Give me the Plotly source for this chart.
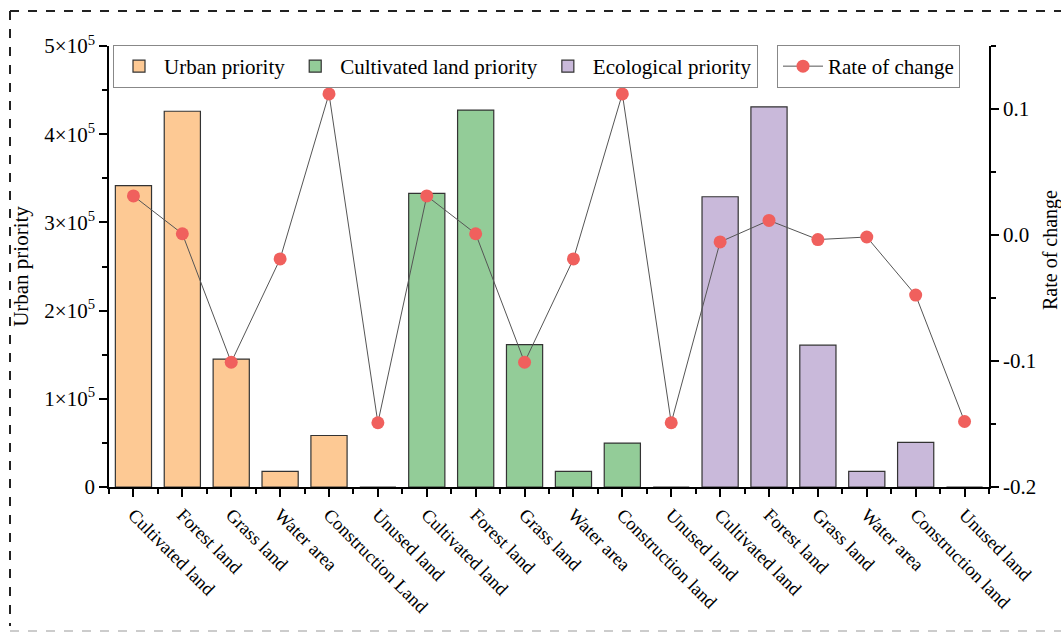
import plotly.graph_objects as go

land_types_a = ["Cultivated land", "Forest land", "Grass land", "Water area", "Construction Land", "Unused land"]
land_types_b = ["Cultivated land", "Forest land", "Grass land", "Water area", "Construction land", "Unused land"]
tick_labels = land_types_a + land_types_b + land_types_b

urban_priority = [341600, 426000, 145000, 17700, 58400, 0]
cultivated_priority = [333000, 427300, 161500, 17700, 49800, 0]
ecological_priority = [329100, 431000, 160800, 17700, 50500, 0]

rate_of_change = [0.031, 0.001, -0.101, -0.019, 0.112, -0.149,
                  0.031, 0.001, -0.101, -0.019, 0.112, -0.149,
                  -0.0055, 0.0116, -0.0036, -0.0016, -0.0477, -0.148]

left_ticks = [0, 100000, 200000, 300000, 400000, 500000]
left_ticktext = ["0", "1×10<sup>5</sup>", "2×10<sup>5</sup>", "3×10<sup>5</sup>", "4×10<sup>5</sup>", "5×10<sup>5</sup>"]
right_ticks = [-0.2, -0.1, 0.0, 0.1]
right_ticktext = ["-0.2", "-0.1", "0.0", "0.1"]
right_axis_title = "Rate of change"

FONT = "Liberation Serif"
# body margin is removed by the post script, so the figure fills the window
OFF = 0
W, H = 1061, 633
ML, MT = 109, 46
PW, PH = 880, 441
MR = W - ML - PW
MB = H - MT - PH

n = len(tick_labels)
pos = list(range(n))
g1 = pos[0:6]
g2 = pos[6:12]
g3 = pos[12:18]

fig = go.Figure()
bar_line = dict(color="#333333", width=1.2)
fig.add_trace(go.Bar(x=g1, y=urban_priority, name="Urban priority", width=0.74,
                     marker=dict(color="#FDC994", line=bar_line), legend="legend"))
fig.add_trace(go.Bar(x=g2, y=cultivated_priority, name="Cultivated land priority", width=0.74,
                     marker=dict(color="#93CC98", line=bar_line), legend="legend"))
fig.add_trace(go.Bar(x=g3, y=ecological_priority, name="Ecological priority", width=0.74,
                     marker=dict(color="#C9B9DA", line=bar_line), legend="legend"))
fig.add_trace(go.Scatter(x=pos, y=rate_of_change, name="Rate of change", yaxis="y2",
                         mode="lines+markers",
                         line=dict(color="#555555", width=1),
                         marker=dict(color="#F0605D", size=13),
                         legend="legend2"))

# convert page pixel coords to paper coords
def px_x(px):
    return (px - OFF - ML) / PW

def px_y(py):
    return (MT + PH - (py - OFF)) / PH

shapes = [
    dict(type="line", xref="paper", yref="paper", x0=px_x(10), x1=px_x(1070), y0=px_y(11), y1=px_y(11),
         line=dict(color="#222222", width=2, dash="dash")),
    dict(type="line", xref="paper", yref="paper", x0=px_x(10), x1=px_x(10), y0=px_y(11), y1=px_y(626),
         line=dict(color="#222222", width=2, dash="dash")),
    dict(type="line", xref="paper", yref="paper", x0=px_x(10), x1=px_x(1070), y0=px_y(631), y1=px_y(631),
         line=dict(color="#CCCCCC", width=2, dash="dash")),
]

annotations = [
    dict(text=right_axis_title, xref="paper", yref="paper", x=px_x(1051), y=px_y(250),
         xanchor="center", yanchor="middle", textangle=-90, showarrow=False,
         font=dict(family=FONT, size=20, color="black")),
]

fig.update_layout(
    width=W, height=H,
    margin=dict(l=ML, r=MR, t=MT, b=MB),
    paper_bgcolor="white", plot_bgcolor="white",
    font=dict(family=FONT, size=21, color="black"),
    barmode="overlay",
    showlegend=True,
    shapes=shapes,
    annotations=annotations,
    xaxis=dict(
        range=[-0.5, n - 0.5],
        tickmode="array", tickvals=pos, ticktext=tick_labels,
        tickangle=45, ticks="outside", ticklen=8, tickwidth=1.5, tickcolor="black",
        minor=dict(tickmode="array", tickvals=[i - 0.5 for i in range(n + 1)], ticks="outside",
                   ticklen=5, tickwidth=1.5, tickcolor="black"),
        showline=True, linecolor="black", linewidth=1.5,
        showgrid=False, zeroline=False,
        tickfont=dict(family=FONT, size=18.5),
        automargin=False,
    ),
    yaxis=dict(
        range=[0, 500000],
        tickmode="array", tickvals=left_ticks, ticktext=left_ticktext,
        ticks="outside", ticklen=8, tickwidth=1.5, tickcolor="black",
        minor=dict(tickmode="array", tickvals=[50000, 150000, 250000, 350000, 450000], ticks="outside",
                   ticklen=5, tickwidth=1.5, tickcolor="black"),
        showline=True, linecolor="black", linewidth=1.5,
        showgrid=False, zeroline=False,
        title=dict(text="Urban priority", font=dict(family=FONT, size=21), standoff=10),
        tickfont=dict(family=FONT, size=21),
        automargin=False,
    ),
    yaxis2=dict(
        overlaying="y", side="right",
        range=[-0.2, 0.15],
        tickmode="array", tickvals=right_ticks, ticktext=right_ticktext,
        ticks="outside", ticklen=8, tickwidth=1.5, tickcolor="black",
        minor=dict(tickmode="array", tickvals=[-0.15, -0.05, 0.05, 0.15], ticks="outside",
                   ticklen=5, tickwidth=1.5, tickcolor="black"),
        showline=True, linecolor="black", linewidth=1.5,
        showgrid=False, zeroline=False,
        tickfont=dict(family=FONT, size=21),
        automargin=False,
    ),
    legend=dict(
        orientation="h", x=px_x(113), y=px_y(45), xanchor="left", yanchor="top",
        bgcolor="white", bordercolor="#888888", borderwidth=1,
        font=dict(family=FONT, size=21), itemwidth=40,
    ),
    legend2=dict(
        orientation="h", x=px_x(777), y=px_y(45), xanchor="left", yanchor="top",
        bgcolor="white", bordercolor="#888888", borderwidth=1,
        font=dict(family=FONT, size=21), itemwidth=40,
    ),
)

fig.write_html(
    "out.html",
    config={"displayModeBar": False},
    post_script="document.body.style.margin='0px';document.body.style.overflow='hidden';",
)
